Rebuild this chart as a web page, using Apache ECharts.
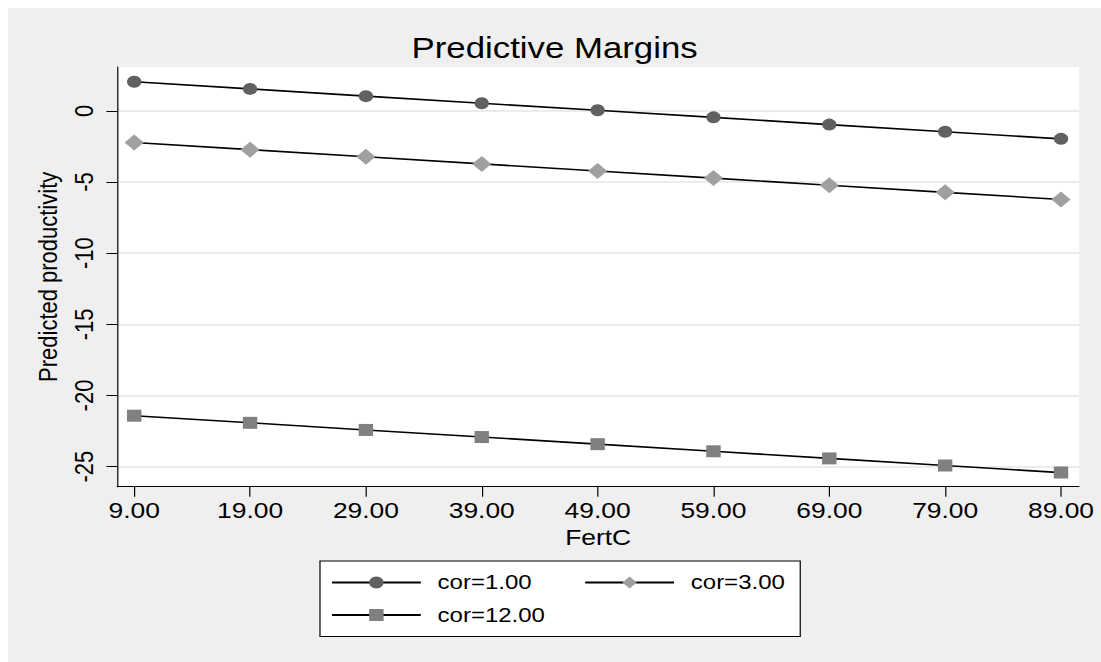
<!DOCTYPE html>
<html>
<head>
<meta charset="utf-8">
<script src="https://cdn.jsdelivr.net/npm/echarts@6/dist/echarts.min.js"></script>
<style>
  html, body { margin: 0; padding: 0; background: #ffffff; width: 1101px; height: 662px; overflow: hidden; }
  #chart { position: absolute; left: 8px; top: 8px; width: 911px; height: 654px; transform: scaleX(1.2); transform-origin: 0 0; }
</style>
</head>
<body>
<div id="chart"></div>
<script>
// ---- data ----
const fertC = [9, 19, 29, 39, 49, 59, 69, 79, 89];
const cor1  = [2.05, 1.55, 1.04, 0.54, 0.05, -0.45, -0.96, -1.46, -1.96];
const cor3  = [-2.22, -2.72, -3.22, -3.72, -4.22, -4.72, -5.22, -5.72, -6.22];
const cor12 = [-21.42, -21.92, -22.42, -22.92, -23.42, -23.92, -24.42, -24.92, -25.42];
const seriesNames = ['cor=1.00', 'cor=3.00', 'cor=12.00'];
const xTicks = [9, 19, 29, 39, 49, 59, 69, 79, 89];
const yTicks = [0, -5, -10, -15, -20, -25];
const titleText = 'Predictive Margins';
const xTitle = 'FertC';
const yTitle = 'Predicted productivity';

const FONT = '"Liberation Sans", Arial, Helvetica, sans-serif';
const pairs = ys => fertC.map((x, i) => [x, ys[i]]);

const chart = echarts.init(document.getElementById('chart'), null, { renderer: 'svg' });
chart.setOption({
  animation: false,
  backgroundColor: '#efefef',
  textStyle: { fontFamily: FONT },
  title: {
    text: titleText, left: 'center', top: 21,
    textStyle: { fontFamily: FONT, fontSize: 29, fontWeight: 'normal', color: '#000' }
  },
  grid: {
    left: 91, right: 18.5, top: 59, bottom: 175.3,
    show: true, backgroundColor: '#ffffff', borderWidth: 0
  },
  xAxis: {
    type: 'value', min: 7.533, max: 90.553,
    name: xTitle, nameLocation: 'middle', nameGap: 37,
    nameTextStyle: { fontFamily: FONT, fontSize: 22, color: '#000' },
    axisLine: { show: true, onZero: false, lineStyle: { color: '#000', width: 1 } },
    axisTick: { show: true, length: 10, customValues: xTicks, lineStyle: { color: '#000', width: 1 } },
    axisLabel: { customValues: xTicks, margin: 13, fontFamily: FONT, fontSize: 22, color: '#000',
      formatter: v => Number(v).toFixed(2) },
    splitLine: { show: false }
  },
  yAxis: {
    type: 'value', min: -26.41, max: 3.09,
    name: yTitle, nameLocation: 'middle', nameGap: 40,
    nameTextStyle: { fontFamily: FONT, fontSize: 22, color: '#000' },
    axisLine: { show: true, onZero: false, lineStyle: { color: '#000', width: 1 } },
    axisTick: { show: true, length: 9, customValues: yTicks, lineStyle: { color: '#000', width: 1 } },
    axisLabel: { customValues: yTicks, rotate: 90, margin: 17, fontFamily: FONT, fontSize: 22, color: '#000' },
    splitLine: { show: true, lineStyle: { color: '#e6e6e6', width: 1.5 } }
  },
  legend: {
    orient: 'vertical', left: 260, top: 553, height: 80,
    data: [
      { name: 'cor=1.00' },
      { name: 'cor=12.00', textStyle: { padding: [0, 22, 0, 9] } },
      { name: 'cor=3.00' }
    ],
    padding: [10.5, 12.8, 10.5, 9], itemGap: 10.5,
    itemWidth: 74, itemHeight: 15,
    backgroundColor: '#ffffff', borderColor: '#000', borderWidth: 1,
    textStyle: { fontFamily: FONT, fontSize: 20, lineHeight: 22, color: '#000', padding: [0, 0, 0, 9] }
  },
  series: [
    { name: seriesNames[0], type: 'line', data: pairs(cor1), symbol: 'circle', symbolSize: 12,
      itemStyle: { color: '#606060' }, lineStyle: { color: '#000', width: 1.6 } },
    { name: seriesNames[1], type: 'line', data: pairs(cor3), symbol: 'diamond', symbolSize: 16,
      itemStyle: { color: '#a0a0a0' }, lineStyle: { color: '#000', width: 1.6 } },
    { name: seriesNames[2], type: 'line', data: pairs(cor12), symbol: 'rect', symbolSize: 12,
      itemStyle: { color: '#808080' }, lineStyle: { color: '#000', width: 1.6 } }
  ]
});
</script>
</body>
</html>
